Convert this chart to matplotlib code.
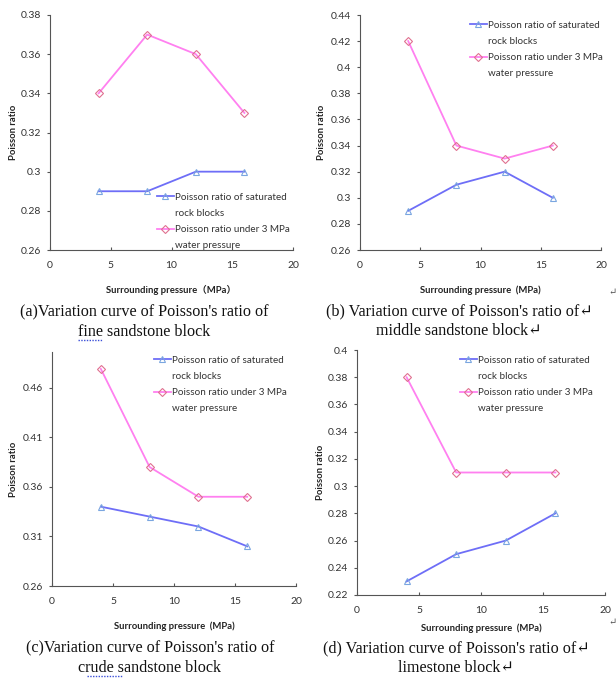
import numpy as np
import matplotlib
matplotlib.use('Agg')
import matplotlib.pyplot as plt
from matplotlib.lines import Line2D
from matplotlib.ticker import FuncFormatter

pressure = [4, 8, 12, 16]

sat_a = [0.29, 0.29, 0.30, 0.30]
water_a = [0.34, 0.37, 0.36, 0.33]
sat_b = [0.29, 0.31, 0.32, 0.30]
water_b = [0.42, 0.34, 0.33, 0.34]
sat_c = [0.34, 0.33, 0.32, 0.30]
water_c = [0.479, 0.38, 0.35, 0.35]
sat_d = [0.23, 0.25, 0.26, 0.28]
water_d = [0.38, 0.31, 0.31, 0.31]

label_sat = ['Poisson ratio of saturated', 'rock blocks']
label_water = ['Poisson ratio under 3 MPa', 'water pressure']

captions = [
    "(a)Variation curve of Poisson's ratio of\nfine sandstone block",
    "(b) Variation curve of Poisson's ratio of\u21b5\nmiddle sandstone block\u21b5",
    "(c)Variation curve of Poisson's ratio of\ncrude sandstone block",
    "(d) Variation curve of Poisson's ratio of\u21b5\nlimestone block\u21b5",
]
xlabels = ['Surrounding pressure\uff08MPa\uff09', 'Surrounding pressure  (MPa)',
           'Surrounding pressure  (MPa)', 'Surrounding pressure  (MPa)']

W, H = 616, 682
fig = plt.figure(figsize=(W / 100, H / 100), dpi=100)

BLUE = '#6e6ef7'
PINK = '#ff80f0'
SANS = ['Lato', 'Noto Sans CJK SC', 'DejaVu Sans']
SERIF = ['Liberation Serif', 'DejaVu Serif']


def px_axes(x0, y0, x1, y1):
    return fig.add_axes([x0 / W, 1 - y1 / H, (x1 - x0) / W, (y1 - y0) / H])


def panel(rect, sat, water, ylim, yticks, xlabel, xlpad, leg_xy, cap, cap_xy, ylab_x):
    ax = px_axes(*rect)
    l1, = ax.plot(pressure, sat, color=BLUE, lw=1.3, marker='^', ms=4.5,
                  mfc='none', mec='#7aa6e0', mew=0.8)
    l2, = ax.plot(pressure, water, color=PINK, lw=1.3, marker='D', ms=3.8,
                  mfc='none', mec='#e07090', mew=0.8)
    ax.set_xlim(0, 20)
    ax.set_ylim(*ylim)
    ax.set_xticks([0, 5, 10, 15, 20])
    ax.set_yticks(yticks)
    ax.yaxis.set_major_formatter(FuncFormatter(lambda v, p: '{:g}'.format(round(v, 3))))
    for s in ['top', 'right']:
        ax.spines[s].set_visible(False)
    for s in ['left', 'bottom']:
        ax.spines[s].set_color('#555555')
        ax.spines[s].set_linewidth(0.8)
    ax.tick_params(axis='x', direction='in', length=2.5, color='#555555', labelsize=7.5, pad=8)
    ax.tick_params(axis='y', direction='out', length=2.5, color='#555555', labelsize=7.5, pad=4)
    for t in ax.get_xticklabels() + ax.get_yticklabels():
        t.set_family(SANS)
        t.set_color('#333333')
    ax.set_xlabel(xlabel, family=SANS, fontsize=6.8, fontweight='bold', labelpad=xlpad, color='#222222')
    ax.set_ylabel('Poisson ratio', family=SANS, fontsize=6.8, fontweight='bold', color='#222222')
    ax.yaxis.set_label_coords(ylab_x, 0.5)
    blank = Line2D([], [], color='none')
    leg = ax.legend([l1, blank, l2, blank], label_sat + label_water,
                    loc='upper left', bbox_to_anchor=(leg_xy[0] / W, 1 - leg_xy[1] / H),
                    bbox_transform=fig.transFigure, frameon=False, handlelength=1.7,
                    handletextpad=0.15, borderpad=0, labelspacing=0.72,
                    prop={'family': SANS, 'size': 7.1})
    for t in leg.get_texts():
        t.set_color('#333333')
    fig.text(cap_xy[0] / W, 1 - cap_xy[1] / H, cap, family=SERIF, fontsize=11.6,
             ha='center', va='center', linespacing=1.3, color='#111111')
    return ax


panel((50, 15, 293, 250), sat_a, water_a, (0.26, 0.38),
      [0.26, 0.28, 0.30, 0.32, 0.34, 0.36, 0.38], xlabels[0], 11,
      (152, 188), captions[0], (144, 322), -0.13)
panel((360, 15, 601, 250), sat_b, water_b, (0.26, 0.44),
      [0.26, 0.28, 0.30, 0.32, 0.34, 0.36, 0.38, 0.40, 0.42, 0.44], xlabels[1], 11,
      (465, 16), captions[1], (459, 321), -0.14)
panel((52, 352, 296, 586), sat_c, water_c, (0.26, 0.496),
      [0.26, 0.31, 0.36, 0.41, 0.46], xlabels[2], 11,
      (149, 351), captions[2], (150, 658), -0.14)
panel((357, 350, 605, 595), sat_d, water_d, (0.22, 0.40),
      [0.22, 0.24, 0.26, 0.28, 0.30, 0.32, 0.34, 0.36, 0.38, 0.40], xlabels[3], 6,
      (455, 351), captions[3], (456, 658), -0.13)

# spell-check underlines under "fine" and "crude"
for x0, x1, y in [(78, 103, 340), (87, 122, 676)]:
    fig.add_artist(Line2D([x0 / W, x1 / W], [1 - y / H, 1 - y / H], transform=fig.transFigure,
                          color='#3b4fd8', lw=1.0, ls=(0, (1, 1))))

fig.text(613 / W, 1 - 292 / H, '\u21b5', family=SERIF, fontsize=7, ha='center', va='center', color='#555555')
fig.text(613 / W, 1 - 622 / H, '\u21b5', family=SERIF, fontsize=7, ha='center', va='center', color='#555555')

fig.savefig('out.png', dpi=100)
